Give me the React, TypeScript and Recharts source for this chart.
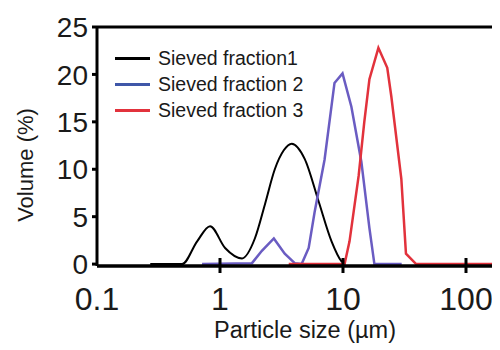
import React from "react";
import { LineChart, Line, XAxis, YAxis, ReferenceLine, Label } from "recharts";

const xTicks = [0.1, 1, 10, 100];
const yTicks = [0, 5, 10, 15, 20, 25];

const seriesNames = ["Sieved fraction1", "Sieved fraction 2", "Sieved fraction 3"];
const lineColors = ["#000000", "#6a5cc2", "#e2323c"];
const legendColors = ["#000000", "#3f57a8", "#e2323c"];

const fraction1Size = [0.271, 0.492, 0.652, 0.83, 1.1, 1.51, 1.92, 2.33, 2.79, 3.3, 3.83, 4.88, 6.34, 8.07, 9.72, 10.5];
const fraction1Volume = [0, 0, 2.4, 4.0, 1.7, 0.6, 2.7, 6.4, 10.0, 12.0, 12.7, 11.1, 6.6, 2.4, 0.3, 0];

const fraction2Size = [0.715, 1.82, 2.19, 2.74, 3.36, 4.05, 4.61, 5.26, 5.88, 7.08, 8.53, 9.91, 11.7, 14.1, 16.4, 18.0, 30];
const fraction2Volume = [0, 0.1, 1.4, 2.7, 1.1, 0.1, 0, 1.7, 5.5, 11.0, 19.1, 20.1, 16.6, 10.8, 3.8, 0, 0];

const fraction3Size = [3.62, 10.3, 11.3, 13.4, 14.9, 16.4, 19.4, 22.9, 24.7, 29.8, 32.5, 39.3, 189];
const fraction3Volume = [0, 0, 2.4, 9.3, 15.0, 19.5, 22.8, 20.7, 17.7, 9.0, 1.1, 0, 0];

const build = (xs: number[], ys: number[]) => xs.map((x, i) => ({ x, v: ys[i] }));

const data1 = build(fraction1Size, fraction1Volume);
const data2 = build(fraction2Size, fraction2Volume);
const data3 = build(fraction3Size, fraction3Volume);

const FONT = "'Liberation Sans', Arial, sans-serif";

const XTick = (props: any) => {
  const { x, y, payload } = props;
  const v = payload.value;
  return (
    <g>
      {v !== 0.1 && (
        <line x1={x} x2={x} y1={y - 8} y2={y + 7} stroke="#000" strokeWidth={3} />
      )}
      <text x={x} y={y + 44} textAnchor="middle" fontSize={32} fontFamily={FONT} fill="#1a1a1a">
        {String(v)}
      </text>
    </g>
  );
};

const YTick = (props: any) => {
  const { x, y, payload } = props;
  return (
    <text x={x} y={y} dy="0.36em" textAnchor="end" fontSize={28} fontFamily={FONT} fill="#1a1a1a">
      {String(payload.value)}
    </text>
  );
};

const LegendBox = () => (
  <div style={{ position: "absolute", left: 107, top: 37, fontFamily: FONT, fontSize: 19.5, color: "#1a1a1a" }}>
    {seriesNames.map((n, i) => (
      <div key={n} style={{ display: "flex", alignItems: "center", height: 26 }}>
        <span style={{ display: "inline-block", width: 35, height: 3, background: legendColors[i], marginRight: 8 }} />
        <span style={{ whiteSpace: "nowrap" }}>{n}</span>
      </div>
    ))}
  </div>
);

export default function App() {
  return (
    <div style={{ position: "relative", width: 492, height: 342 }}>
      <LineChart width={492} height={342} margin={{ top: 19, right: 0, bottom: 0, left: 0 }}>
        <XAxis
          dataKey="x"
          type="number"
          scale="log"
          domain={[0.1, 189]}
          allowDataOverflow
          ticks={xTicks}
          height={84}
          tickSize={0}
          tickMargin={0}
          tickLine={false}
          tick={<XTick />}
          axisLine={{ stroke: "#000", strokeWidth: 3.5 }}
        >
          <Label
            content={() => (
              <text x={297} y={330} textAnchor="middle" fontSize={23.5} fontFamily={FONT} fill="#1a1a1a">
                Particle size (µm)
              </text>
            )}
          />
        </XAxis>
        <YAxis
          type="number"
          domain={[-0.2, 25]}
          allowDataOverflow
          ticks={yTicks}
          width={89}
          tickSize={5}
          tickMargin={4}
          tickLine={{ stroke: "#000", strokeWidth: 3 }}
          tick={<YTick />}
          axisLine={{ stroke: "#000", strokeWidth: 3 }}
        >
          <Label
            content={() => (
              <text
                x={17}
                y={157}
                transform="rotate(-90 17 157)"
                textAnchor="middle"
                dominantBaseline="central"
                fontSize={22}
                fontFamily={FONT}
                fill="#1a1a1a"
              >
                Volume (%)
              </text>
            )}
          />
        </YAxis>
        <ReferenceLine y={25} stroke="#000" strokeWidth={3} />
        <Line data={data1} dataKey="v" name={seriesNames[0]} type="monotone" stroke={lineColors[0]} strokeWidth={2} dot={false} isAnimationActive={false} />
        <Line data={data2} dataKey="v" name={seriesNames[1]} type="linear" stroke={lineColors[1]} strokeWidth={2.5} dot={false} isAnimationActive={false} />
        <Line data={data3} dataKey="v" name={seriesNames[2]} type="linear" stroke={lineColors[2]} strokeWidth={2.5} dot={false} isAnimationActive={false} />
      </LineChart>
      <LegendBox />
    </div>
  );
}
